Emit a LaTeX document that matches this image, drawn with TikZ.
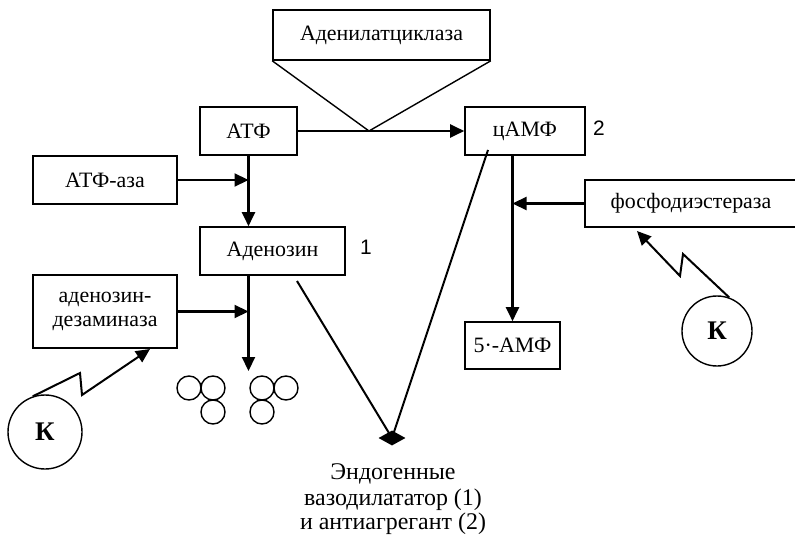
\documentclass[tikz,border=0pt]{standalone}
\usepackage{fontspec}
\setmainfont{Liberation Serif}
\newfontfamily\numfont{Liberation Sans}
\usetikzlibrary{arrows.meta,shapes.geometric}
\begin{document}
\begin{tikzpicture}[x=1bp,y=-1bp,
  box/.style={draw,line width=1.6bp,minimum height=48bp,inner sep=0pt,
    font=\fontsize{22}{25}\selectfont,align=center},
  arr/.style={line width=2.2bp,-{Triangle[length=14bp,width=13bp]}},
  thin/.style={line width=1.4bp},
  kcirc/.style={draw,circle,line width=1.4bp,inner sep=0pt,font=\bfseries\fontsize{27}{27}\selectfont},
  small/.style={draw,circle,line width=1.4bp,minimum size=24bp,inner sep=0pt},
  lbl/.style={font=\fontsize{24}{24}\selectfont,anchor=base},
  num/.style={font=\numfont\fontsize{21}{21}\selectfont}]
\clip (0,0) rectangle (795,536);
\fill[white] (0,0) rectangle (795,536);
% boxes
\node[box,minimum width=217bp,minimum height=50bp] (adc) at (381.5,35) {Аденилатциклаза};
\node[box,minimum width=97bp] (atf) at (248.5,131) {АТФ};
\node[box,minimum width=144bp] (atfaza) at (105,180) {АТФ-аза};
\node[box,minimum width=145bp] (aden) at (272.5,251) {Аденозин};
\node[box,minimum width=120bp] (camf) at (525,131) {цАМФ};
\node[box,minimum width=220bp,minimum height=47bp] (fde) at (695,203.5) {\hspace*{-8bp}фосфодиэстераза};
\node[box,minimum width=95bp,minimum height=47bp] (amf) at (512.5,345.5) {5·-АМФ};
\node[box,minimum width=144bp,minimum height=73bp] (ada) at (105,311.5) {аденозин-\\[0bp]дезаминаза};
\node[num] (n1) at (366,247) {1};
\node[num] (n2) at (599,128) {2};
% adenylate cyclase triangle
\coordinate (tri) at (369,131);
\draw[thin,line join=miter] (adc.south west) -- (tri) -- (adc.south east);
% ATF -> cAMF
\draw[arr] (atf.east) -- (camf.west);
% ATF -> Adenosin
\draw[arr] (atf.south) -- (atf.south |- aden.north);
\draw[arr] (atfaza.east) -- (atfaza.east -| atf.south);
% Adenosin -> circles
\coordinate (ctop) at (248.5,371);
\draw[arr] (aden.south -| atf.south) -- (ctop);
\draw[arr] (ada.east) -- (ada.east -| ctop);
% cAMF -> 5'-AMF
\draw[arr] (amf.north |- camf.south) -- (amf.north);
\draw[arr] (fde.west) -- (fde.west -| amf.north);
% small circles
\node[small] (c1) at (189,388) {};
\node[small] (c2) at (213,388) {};
\node[small] (c3) at (213,412) {};
\node[small] (c4) at (262,388) {};
\node[small] (c5) at (286,388) {};
\node[small] (c6) at (262,412) {};
% K circles
\node[kcirc,minimum size=74bp] (k1) at (45,432) {К};
\node[kcirc,minimum size=70bp] (k2) at (717,331) {К};
\coordinate (k1t) at (150,349);
\coordinate (k2t) at (637,231);
\draw[line width=2bp,-{Triangle[length=14bp,width=13bp]}] (k1.109) -- (80,373) -- (82,395) -- (k1t);
\draw[line width=2bp,-{Triangle[length=14bp,width=13bp]}] (k2.70) -- (683,254) -- (680,276) -- (k2t);
% to endogenous
\node[diamond,fill=black,minimum width=27bp,minimum height=15bp,inner sep=0pt] (endo) at (392,438) {};
\coordinate (s1) at (297,281);
\coordinate (s2) at (488,150);
\draw[line width=2bp] (s1) -- (endo.center);
\draw[line width=2bp] (s2) -- (endo.center);
\node[lbl] (e1) at (393,479) {Эндогенные};
\node[lbl] (e2) at (393,505) {вазодилататор (1)};
\node[lbl] (e3) at (393,529) {и антиагрегант (2)};
\end{tikzpicture}
\end{document}
